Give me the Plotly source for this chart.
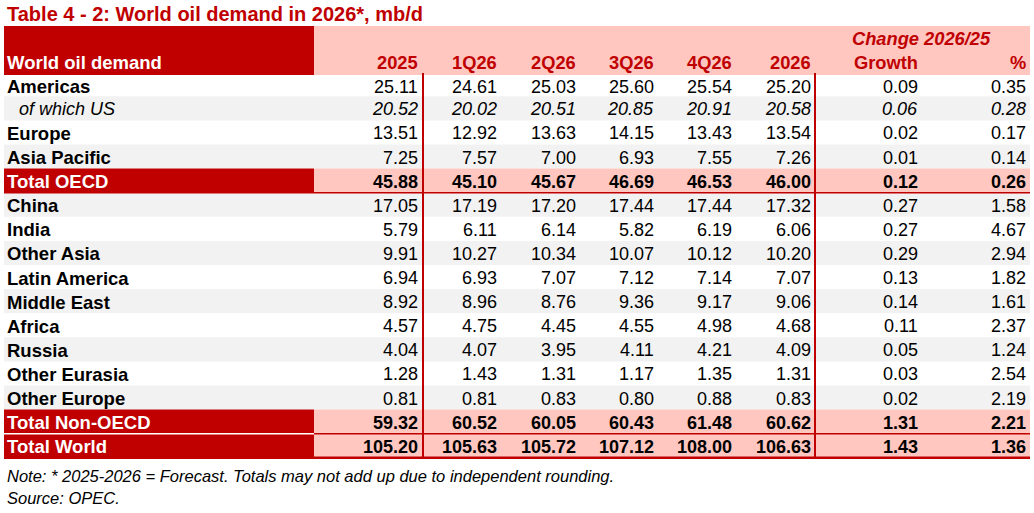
import plotly.graph_objects as go

# ---------------- data ----------------
title = "Table 4 - 2: World oil demand in 2026*, mb/d"
row_labels = ["Americas", "of which US", "Europe", "Asia Pacific", "Total OECD",
              "China", "India", "Other Asia", "Latin America", "Middle East",
              "Africa", "Russia", "Other Eurasia", "Other Europe",
              "Total Non-OECD", "Total World"]
col_headers = ["2025", "1Q26", "2Q26", "3Q26", "4Q26", "2026", "Growth", "%"]
group_header = "Change 2026/25"

v2025 = [25.11, 20.52, 13.51, 7.25, 45.88, 17.05, 5.79, 9.91, 6.94, 8.92, 4.57, 4.04, 1.28, 0.81, 59.32, 105.20]
v1q26 = [24.61, 20.02, 12.92, 7.57, 45.10, 17.19, 6.11, 10.27, 6.93, 8.96, 4.75, 4.07, 1.43, 0.81, 60.52, 105.63]
v2q26 = [25.03, 20.51, 13.63, 7.00, 45.67, 17.20, 6.14, 10.34, 7.07, 8.76, 4.45, 3.95, 1.31, 0.83, 60.05, 105.72]
v3q26 = [25.60, 20.85, 14.15, 6.93, 46.69, 17.44, 5.82, 10.07, 7.12, 9.36, 4.55, 4.11, 1.17, 0.80, 60.43, 107.12]
v4q26 = [25.54, 20.91, 13.43, 7.55, 46.53, 17.44, 6.19, 10.12, 7.14, 9.17, 4.98, 4.21, 1.35, 0.88, 61.48, 108.00]
v2026 = [25.20, 20.58, 13.54, 7.26, 46.00, 17.32, 6.06, 10.20, 7.07, 9.06, 4.68, 4.09, 1.31, 0.83, 60.62, 106.63]
growth = [0.09, 0.06, 0.02, 0.01, 0.12, 0.27, 0.27, 0.29, 0.13, 0.14, 0.11, 0.05, 0.03, 0.02, 1.31, 1.43]
pct = [0.35, 0.28, 0.17, 0.14, 0.26, 1.58, 4.67, 2.94, 1.82, 1.61, 2.37, 1.24, 2.54, 2.19, 2.21, 1.36]

total_rows = ["Total OECD", "Total Non-OECD", "Total World"]
italic_rows = ["of which US"]
note = "Note: * 2025-2026 = Forecast. Totals may not add up due to independent rounding."
source = "Source: OPEC."

# ---------------- style / layout ----------------
W, H = 1034, 513
RED = "#C00000"
PINK = "#FFC7C0"
GREY = "#F2F2F2"
FONT = "Liberation Sans, Arial, sans-serif"
FS_NUM = 18
FS_LAB = 18.5
FS_HEAD = 18.3
LEFT, RIGHT = 4, 1030
LABEL_END = 314
HEAD_TOP, HEAD_BOT = 26, 75
ROW_TOP0, ROW_H = 72.2, 24.1
col_right = [419, 498, 576.5, 654.5, 733, 811.5, 919, 1026.5]
vlines = [423, 815]

columns = [v2025, v1q26, v2q26, v3q26, v4q26, v2026, growth, pct]

fig = go.Figure()
shapes = []
ann = []

def rect(x0, x1, y0, y1, color):
    shapes.append(dict(type="rect", xref="x", yref="y", x0=x0, x1=x1, y0=y0, y1=y1,
                       fillcolor=color, line=dict(width=0), layer="below"))

def hline(x0, x1, y, color, w):
    shapes.append(dict(type="line", xref="x", yref="y", x0=x0, x1=x1, y0=y, y1=y,
                       line=dict(color=color, width=w), layer="above"))

# header band
rect(LEFT, LABEL_END, HEAD_TOP, HEAD_BOT, RED)
rect(LABEL_END, RIGHT, HEAD_TOP, HEAD_BOT, PINK)

n = len(row_labels)
for i, lab in enumerate(row_labels):
    top = max(ROW_TOP0 + ROW_H * i, HEAD_BOT)
    bot = ROW_TOP0 + ROW_H * (i + 1)
    if lab in total_rows:
        rect(LEFT, LABEL_END, top, bot, RED)
        rect(LABEL_END, RIGHT, top, bot, PINK)
    elif i % 2 == 1:
        rect(LEFT, RIGHT, top, bot, GREY)

# separators
idx_oecd = row_labels.index("Total OECD")
hline(LEFT, RIGHT, ROW_TOP0 + ROW_H * (idx_oecd + 1), RED, 1.5)
idx_non = row_labels.index("Total Non-OECD")
hline(LEFT, LABEL_END, ROW_TOP0 + ROW_H * (idx_non + 1), "white", 1.5)
hline(LABEL_END, RIGHT, ROW_TOP0 + ROW_H * (idx_non + 1), RED, 1.5)
hline(LEFT, RIGHT, ROW_TOP0 + ROW_H * n, RED, 2.5)
table_bottom = ROW_TOP0 + ROW_H * n
for vx in vlines:
    shapes.append(dict(type="line", xref="x", yref="y", x0=vx, x1=vx, y0=HEAD_BOT - 2,
                       y1=table_bottom, line=dict(color=RED, width=2), layer="above"))

def text(x, y, s, anchor="right", color="black", size=FS_NUM, bold=False, italic=False):
    if bold:
        s = "<b>" + s + "</b>"
    if italic:
        s = "<i>" + s + "</i>"
    ann.append(dict(x=x, y=y, xref="x", yref="y", text=s, showarrow=False,
                    xanchor=anchor, yanchor="middle", borderpad=0,
                    font=dict(family=FONT, size=size, color=color)))

# title
text(6, 13.5, title, anchor="left", color=RED, size=20, bold=True)
# headers
text(6, 62, "World oil demand", anchor="left", color="white", size=FS_LAB, bold=True)
for cx, h in zip(col_right, col_headers):
    text(cx, 62, h, color=RED, size=FS_HEAD, bold=True)
text(851, 38.5, group_header, anchor="left", color=RED, size=FS_HEAD, bold=True, italic=True)

# body
for i, lab in enumerate(row_labels):
    yc = ROW_TOP0 + ROW_H * i + ROW_H / 2 + 1
    if i == 0:
        yc += 1.5
    is_tot = lab in total_rows
    is_it = lab in italic_rows
    if is_tot:
        text(6, yc, lab, anchor="left", color="white", size=FS_LAB, bold=True)
    elif is_it:
        text(17.5, yc, lab, anchor="left", size=FS_NUM, italic=True)
    else:
        text(6, yc, lab, anchor="left", size=FS_LAB, bold=True)
    for cx, col in zip(col_right, columns):
        text(cx, yc, f"{col[i]:.2f}", bold=is_tot, italic=is_it)

text(6, 476, note, anchor="left", size=16.5, italic=True)
text(6, 498, source, anchor="left", size=16.5, italic=True)

fig.update_layout(
    width=W, height=H, margin=dict(l=0, r=0, t=0, b=0),
    paper_bgcolor="white", plot_bgcolor="white",
    xaxis=dict(range=[0, W], visible=False, fixedrange=True),
    yaxis=dict(range=[H, 0], visible=False, fixedrange=True),
    shapes=shapes, annotations=ann, showlegend=False,
)
fig.write_html(
    "out.html",
    config={"displayModeBar": False},
    post_script="document.body.style.margin='0';document.body.style.overflow='hidden';",
)
